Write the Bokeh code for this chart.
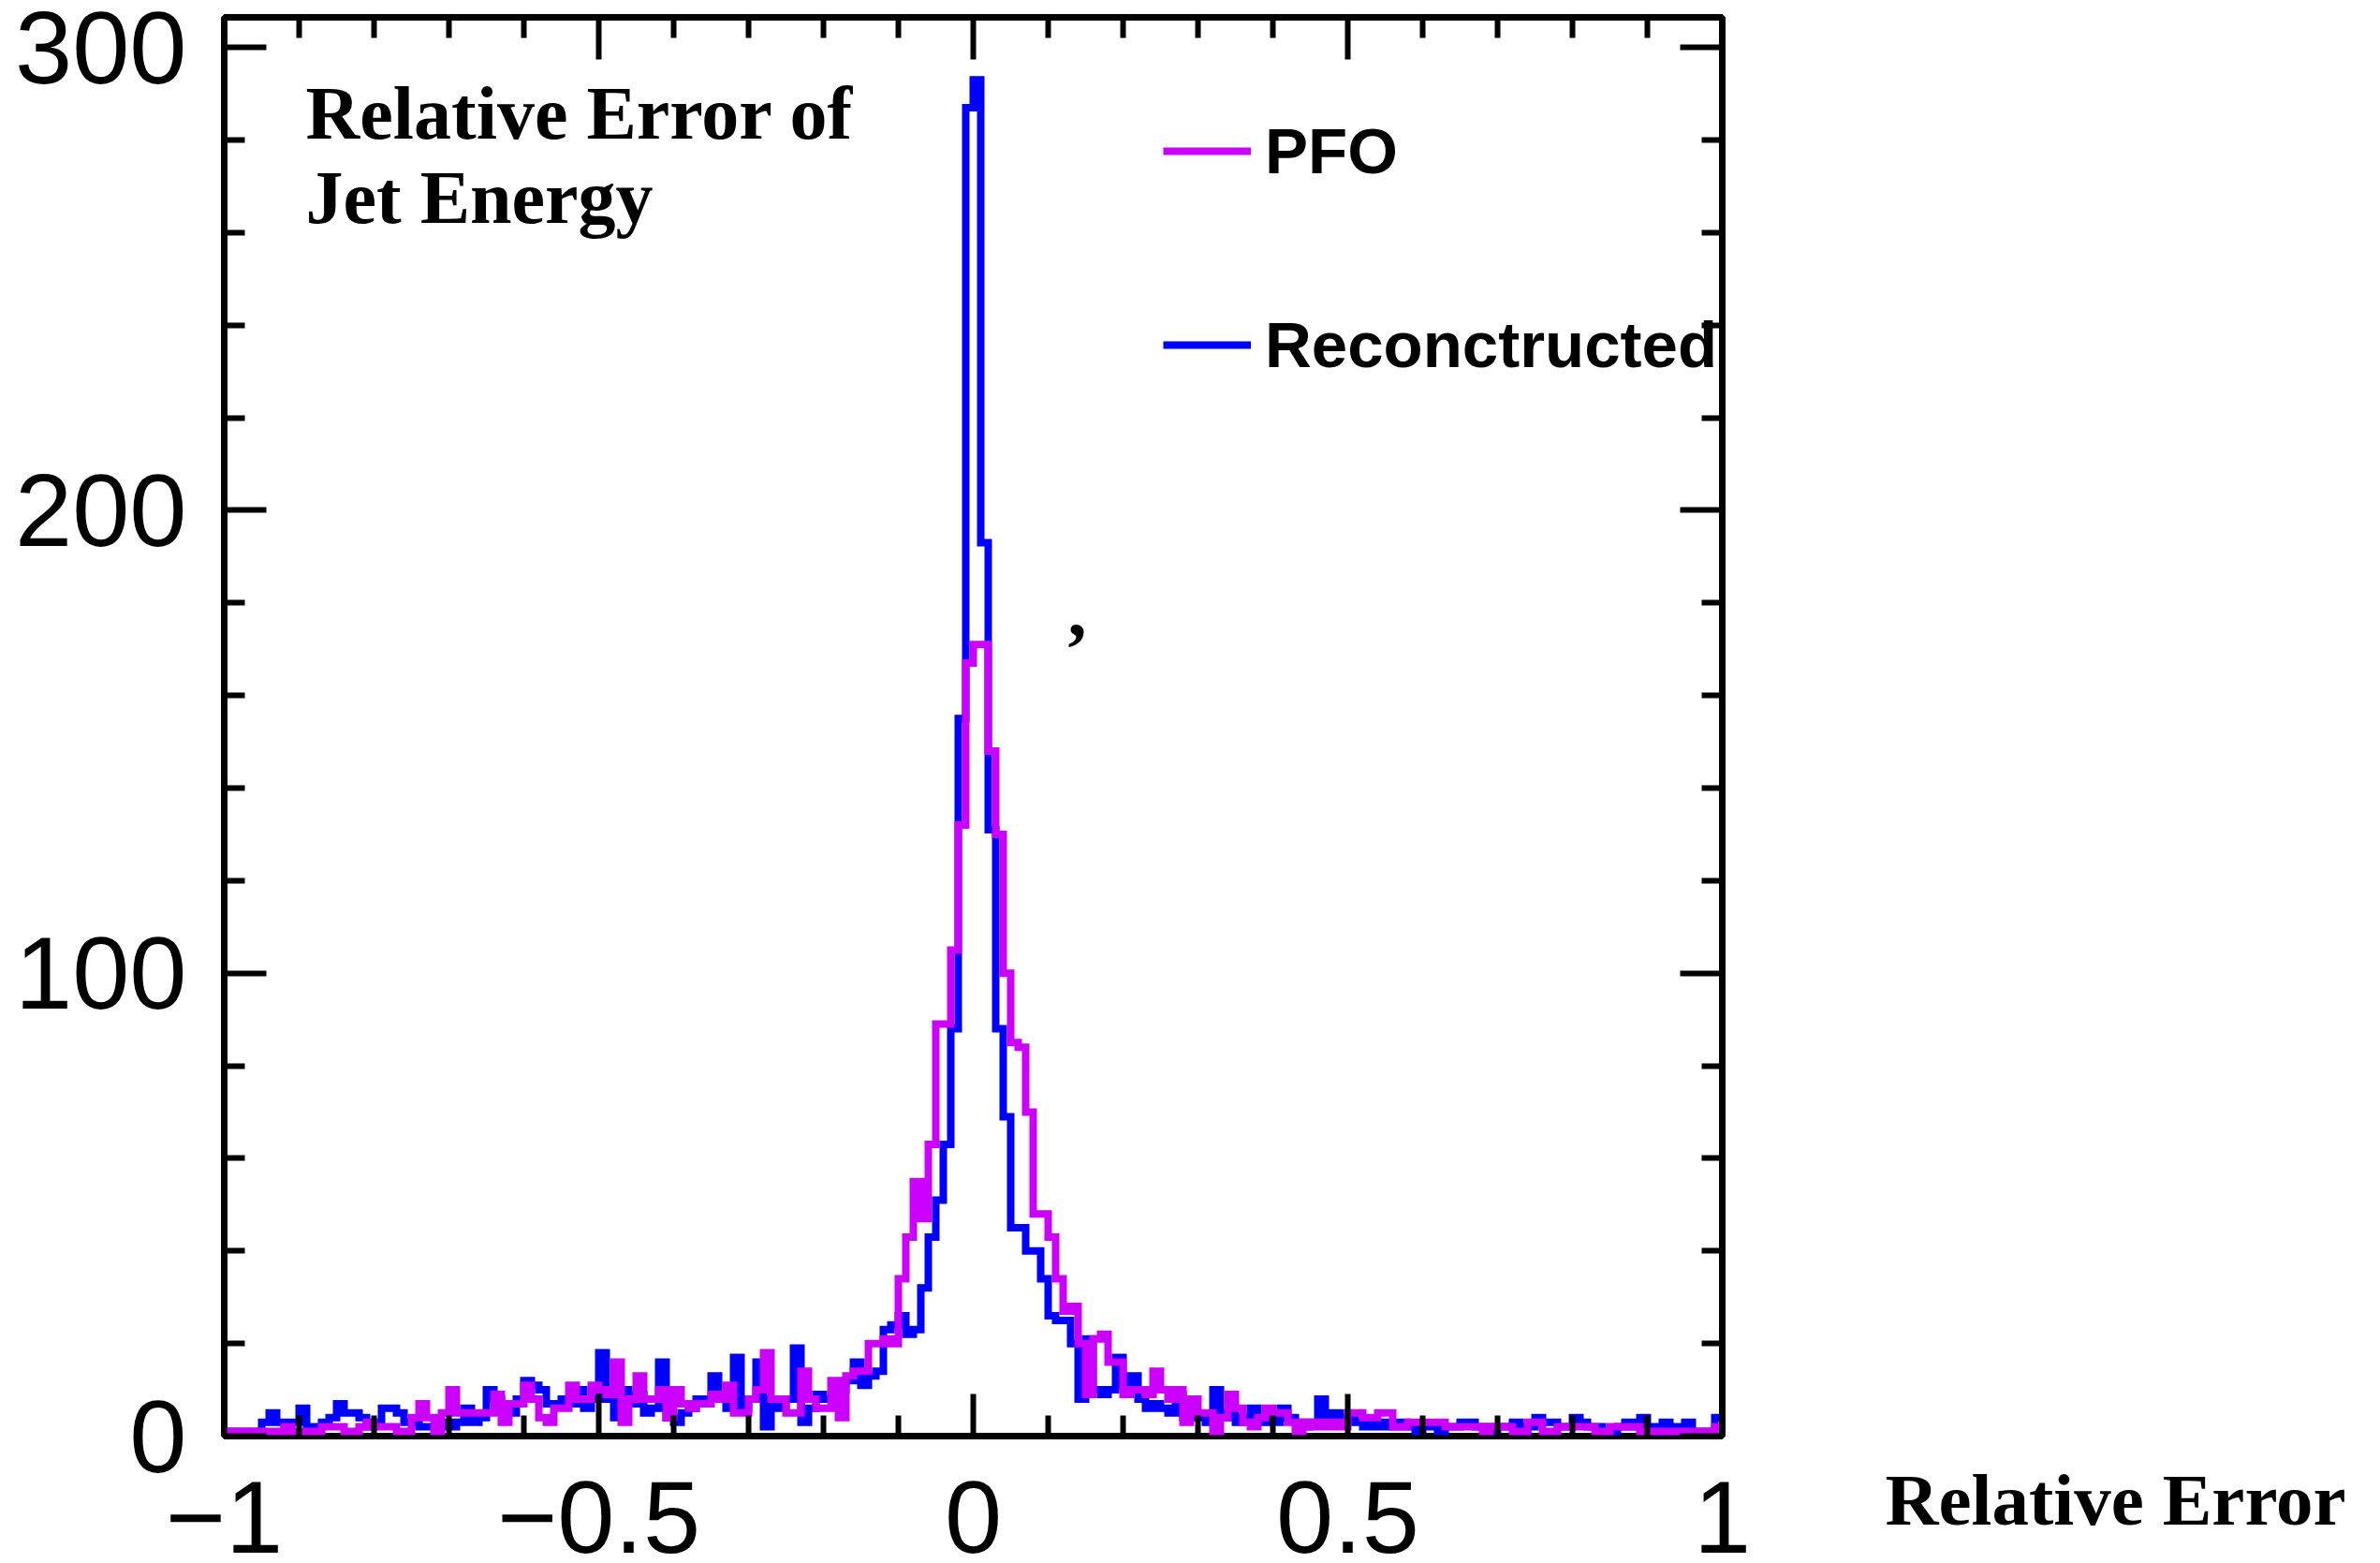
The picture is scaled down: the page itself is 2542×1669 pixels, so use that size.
import numpy as np
from bokeh.plotting import figure
from bokeh.models import (Range1d, LinearAxis, FixedTicker, Label,
                          ColumnDataSource, Legend, LegendItem)
from bokeh.embed import file_html
from bokeh.resources import INLINE

# ---------------- data ----------------
x_low, x_high = -1.0, 1.0
y_low, y_top = 0.0, 306.5

# PFO (magenta) bin counts, 200 bins of width 0.01 from -1 to 1
pfo_counts = [
    1, 1, 1, 1, 1, 1, 1, 1, 2, 1,
    1, 1, 1, 2, 2, 2, 1, 1, 2, 3,
    2, 2, 2, 1, 1, 4, 7, 4, 1, 5,
    10, 5, 5, 5, 5, 5, 9, 3, 7, 7,
    11, 8, 4, 3, 6, 6, 11, 8, 8, 11,
    10, 9, 16, 3, 8, 13, 8, 8, 10, 4,
    10, 7, 6, 7, 7, 9, 8, 11, 5, 5,
    8, 10, 18, 8, 8, 5, 5, 14, 8, 6,
    6, 12, 4, 13, 14, 14, 20, 20, 21, 20,
    34, 43, 55, 47, 63, 89, 89, 105, 132, 167,
    171, 171, 148, 130, 100, 85, 84, 70, 48, 48,
    43, 34, 27, 28, 20, 9, 21, 22, 16, 16,
    9, 10, 10, 9, 14, 10, 8, 10, 3, 8,
    5, 5, 1, 4, 9, 6, 3, 2, 4, 6,
    5, 5, 3, 1, 3, 2, 3, 2, 3, 2,
    5, 5, 4, 4, 5, 5, 2, 2, 3, 3,
    3, 3, 3, 2, 2, 2, 2, 2, 1, 2,
    2, 2, 1, 1, 3, 3, 1, 1, 2, 2,
    2, 2, 2, 1, 1, 2, 2, 2, 2, 1,
    1, 1, 1, 1, 1, 1, 1, 1, 1, 2,
]

# Reconstructed (blue) bin counts
reco_counts = [
    1, 1, 0, 1, 1, 3, 5, 3, 2, 3,
    6, 2, 2, 3, 4, 7, 5, 5, 4, 2,
    3, 6, 6, 5, 3, 3, 2, 2, 2, 3,
    2, 3, 6, 3, 4, 10, 8, 6, 5, 8,
    12, 11, 10, 7, 7, 8, 7, 10, 6, 8,
    18, 8, 4, 10, 7, 9, 5, 6, 16, 4,
    3, 5, 6, 8, 8, 13, 8, 6, 17, 6,
    8, 16, 2, 8, 6, 8, 19, 3, 6, 9,
    8, 8, 10, 12, 16, 11, 13, 14, 23, 24,
    26, 22, 23, 32, 43, 51, 63, 88, 155, 287,
    293, 193, 131, 88, 69, 45, 45, 40, 40, 34,
    26, 25, 25, 20, 8, 21, 10, 9, 10, 17,
    11, 13, 8, 6, 7, 6, 5, 9, 4, 5,
    4, 3, 10, 4, 5, 3, 4, 6, 3, 4,
    3, 6, 4, 3, 2, 3, 8, 3, 5, 3,
    4, 3, 2, 3, 2, 3, 2, 3, 2, 1,
    2, 2, 1, 2, 2, 3, 3, 2, 2, 1,
    2, 2, 3, 1, 2, 4, 3, 3, 2, 2,
    4, 3, 2, 2, 1, 1, 2, 3, 2, 4,
    2, 1, 3, 2, 1, 3, 1, 1, 1, 4,
]

series_names = ["PFO", "Reconctructed"]

x_major_ticks = [-1.0, -0.5, 0.0, 0.5, 1.0]
x_tick_labels = ["\u22121", "\u22120.5", "0", "0.5", "1"]
x_minor_ticks = [-0.9, -0.8, -0.7, -0.6, -0.4, -0.3, -0.2, -0.1,
                 0.1, 0.2, 0.3, 0.4, 0.6, 0.7, 0.8, 0.9]
y_major_ticks = [0, 100, 200, 300]
y_minor_ticks = [20, 40, 60, 80, 120, 140, 160, 180, 220, 240, 260, 280]

title_lines = ["Relative Error of", "Jet Energy"]
x_title = "Relative Error"

# ---------------- figure ----------------
PFO_COLOR = "#CC00FF"
RECO_COLOR = "#0000FF"

n_bins = len(pfo_counts)
bin_edges = np.linspace(x_low, x_high, n_bins + 1)

p = figure(frame_width=1600, frame_height=1515,
           min_border_left=239, min_border_right=700,
           min_border_top=18, min_border_bottom=134,
           x_range=Range1d(x_low, x_high), y_range=Range1d(y_low, y_top),
           x_axis_location=None, y_axis_location=None,
           output_backend="svg", toolbar_location=None)
p.background_fill_color = "white"
p.border_fill_color = "white"
p.outline_line_color = "black"
p.outline_line_width = 7
p.xgrid.visible = False
p.ygrid.visible = False


def style_axis(ax, show_labels, size="110px", standoff=40):
    ax.axis_line_color = None
    ax.major_tick_in = 45
    ax.major_tick_out = 0
    ax.minor_tick_in = 22
    ax.minor_tick_out = 0
    ax.major_tick_line_width = 6
    ax.minor_tick_line_width = 6
    ax.major_tick_line_color = "black"
    ax.minor_tick_line_color = "black"
    if show_labels:
        ax.major_label_text_font = "Liberation Sans"
        ax.major_label_text_font_size = size
        ax.major_label_text_color = "black"
        ax.major_label_standoff = standoff
    else:
        ax.major_label_text_font_size = "1px"
        ax.major_label_text_color = None
        ax.major_label_standoff = 0


left_ax = LinearAxis(ticker=FixedTicker(ticks=y_major_ticks, minor_ticks=y_minor_ticks))
style_axis(left_ax, True, "110px", 40)
right_ax = LinearAxis(ticker=FixedTicker(ticks=y_major_ticks, minor_ticks=y_minor_ticks),
                      fixed_location=x_high)
style_axis(right_ax, False)
bottom_ax = LinearAxis(ticker=FixedTicker(ticks=x_major_ticks, minor_ticks=x_minor_ticks),
                       major_label_overrides=dict(zip(x_major_ticks, x_tick_labels)))
style_axis(bottom_ax, True, "110px", 48)
top_ax = LinearAxis(ticker=FixedTicker(ticks=x_major_ticks, minor_ticks=x_minor_ticks))
style_axis(top_ax, False)
p.add_layout(left_ax, "left")
p.add_layout(right_ax, "right")
p.add_layout(bottom_ax, "below")
p.add_layout(top_ax, "above")

src = ColumnDataSource(dict(
    x=bin_edges,
    reco=list(reco_counts) + [reco_counts[-1]],
    pfo=list(pfo_counts) + [pfo_counts[-1]],
))
r_reco = p.step(x="x", y="reco", source=src, mode="after",
                line_color=RECO_COLOR, line_width=8, line_join="miter")
r_pfo = p.step(x="x", y="pfo", source=src, mode="after",
               line_color=PFO_COLOR, line_width=8, line_join="miter")

# legend inside the frame (moved slightly left so the long label stays visible)
legend = Legend(items=[LegendItem(label=series_names[0], renderers=[r_pfo]),
                       LegendItem(label=series_names[1], renderers=[r_reco])],
                location=(1003, 1115), orientation="vertical",
                glyph_width=94, glyph_height=100, label_height=100, label_width=50,
                spacing=107, label_standoff=15, padding=0, margin=0,
                border_line_color=None, background_fill_alpha=0,
                label_text_font="Liberation Sans", label_text_font_style="bold",
                label_text_font_size="69px", label_text_color="black")
p.add_layout(legend)

for txt, yy in zip(title_lines, [1413, 1323]):
    p.add_layout(Label(x=87, y=yy, x_units="screen", y_units="screen", text=txt,
                       text_font="Liberation Serif", text_font_style="bold",
                       text_font_size="80px", text_color="black",
                       text_baseline="alphabetic"))

p.add_layout(Label(x=901, y=881, x_units="screen", y_units="screen", text=",",
                   text_font="Liberation Serif", text_font_style="bold",
                   text_font_size="80px", text_color="black",
                   text_baseline="alphabetic"))

# axis title, outside the frame on the lower right (right side panel)
p.add_layout(Label(x=174, y=-68, x_units="screen", y_units="screen", text=x_title,
                   text_font="Liberation Serif", text_font_style="bold",
                   text_font_size="79px", text_color="black",
                   text_baseline="alphabetic"), "right")

open("out.html", "w").write(file_html(p, INLINE))
